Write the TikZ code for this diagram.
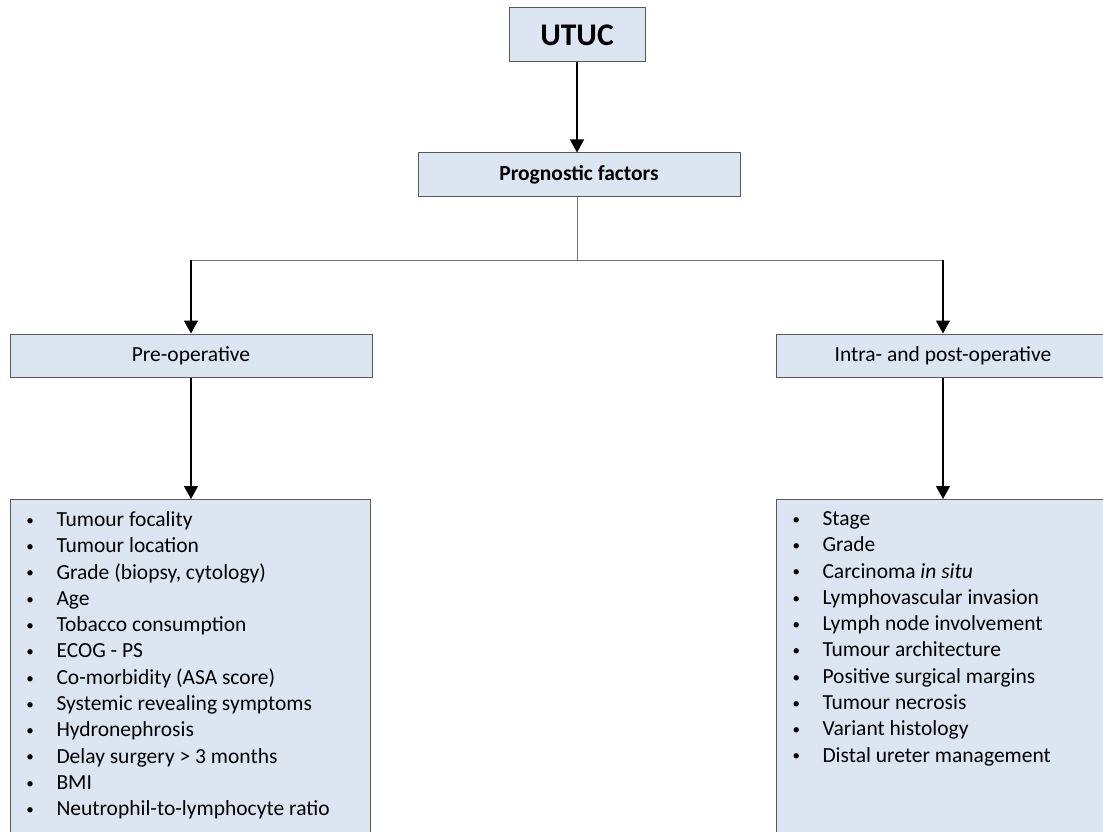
\documentclass[tikz,border=0pt]{standalone}
\usepackage{fontspec}
\setmainfont{Carlito}
\usetikzlibrary{arrows.meta}

\definecolor{boxblue}{HTML}{DCE6F2}
\definecolor{boxline}{HTML}{595959}
\newcommand{\itm}{\makebox[30pt][l]{\raisebox{0.12ex}{\scalebox{0.7}{\textbullet}}}}
\newcommand{\listsize}{\fontsize{21.5}{26.3}\selectfont}

\tikzset{
  box/.style={draw=boxline, fill=boxblue, line width=1pt, inner sep=0pt, font=\listsize},
  arr/.style={-{Triangle[width=14pt,length=13pt]}, line width=1.3pt},
  link/.style={draw=black!55, line width=1pt}
}

\begin{document}
\begin{tikzpicture}[x=1pt,y=-1pt]
\useasboundingbox (0,0) rectangle (1103,832);
\clip (0,0) rectangle (1103,832);
\fill[white] (0,0) rectangle (1103,832);

\node [box, minimum width=136, minimum height=54, font=\bfseries\fontsize{31.5}{38}\selectfont] (utuc) at (577,35) {UTUC};
\node [box, minimum width=322, minimum height=43, font=\bfseries\listsize] (prog) at (579,174.5) {Prognostic factors};
\node [box, minimum width=362, minimum height=43] (pre) at (191,355.5) {Pre-operative};
\node [box, minimum width=334, minimum height=43] (intra) at (943,355.5) {Intra- and post-operative};

\node [box, anchor=north west, inner xsep=16pt, inner ysep=12pt] (prelist) at (10,499)
  {\parbox[t][330pt][t]{328pt}{\raggedright
    \itm Tumour focality\\
    \itm Tumour location\\
    \itm Grade (biopsy, cytology)\\
    \itm Age\\
    \itm Tobacco consumption\\
    \itm ECOG - PS\\
    \itm Co-morbidity (ASA score)\\
    \itm Systemic revealing symptoms\\
    \itm Hydronephrosis\\
    \itm Delay surgery > 3 months\\
    \itm BMI\\
    \itm Neutrophil-to-lymphocyte ratio}};
\node [box, anchor=north west, inner xsep=16pt, inner ysep=12pt] (postlist) at (776,499)
  {\parbox[t][330pt][t]{308pt}{\raggedright
    \itm Stage\\
    \itm Grade\\
    \itm Carcinoma \textit{in situ}\\
    \itm Lymphovascular invasion\\
    \itm Lymph node involvement\\
    \itm Tumour architecture\\
    \itm Positive surgical margins\\
    \itm Tumour necrosis\\
    \itm Variant histology\\
    \itm Distal ureter management}};

% split of the prognostic factors
\coordinate (split) at (577,260);
\coordinate (lsplit) at (pre.north |- split);
\coordinate (rsplit) at (intra.north |- split);

\draw [arr] (utuc.south) -- (utuc.south |- prog.north);
\draw [link] (prog.south -| split) -- (split);
\draw [link] (lsplit) -- (rsplit);
\draw [arr] (lsplit) -- (pre.north);
\draw [arr] (rsplit) -- (intra.north);
\draw [arr] (pre.south) -- (pre.south |- prelist.north);
\draw [arr] (intra.south) -- (intra.south |- postlist.north);
\end{tikzpicture}
\end{document}
